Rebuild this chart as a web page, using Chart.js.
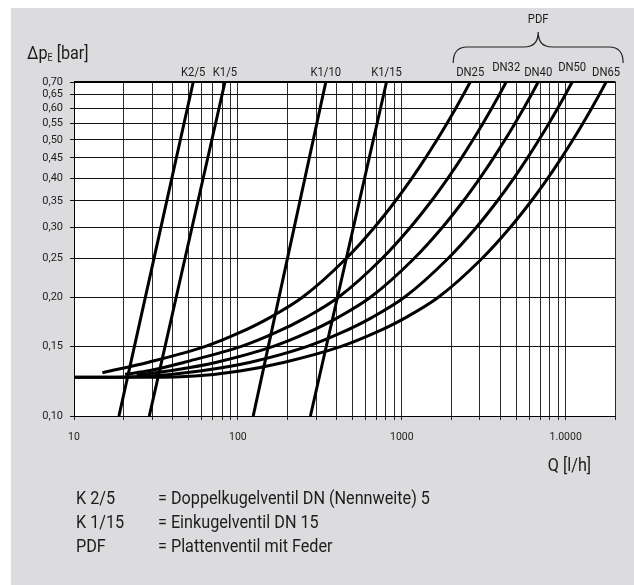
<!DOCTYPE html>
<html>
<head>
<meta charset="utf-8">
<script src="https://cdn.jsdelivr.net/npm/chart.js@4/dist/chart.umd.min.js"></script>
<style>
  body { margin: 0; background: #fff; }
  #wrap { position: relative; width: 634px; height: 585px; overflow: hidden; }
  #panel { position: absolute; left: 11px; top: 8px; right: 0; bottom: 0; background: #dcdcde; }
  canvas { position: absolute; left: 0; top: 0; }
  .t { position: absolute; font-family: Roboto, 'Liberation Sans', sans-serif; font-size: 18px;
       color: #1c1c1c; white-space: nowrap; line-height: 1; transform: scaleX(0.9); transform-origin: 0 0; }
  .t.re { transform-origin: 100% 0; }
  .t sub { font-size: 10px; vertical-align: -2px; }
</style>
</head>
<body>
<div id="wrap">
  <div id="panel"></div>
  <canvas id="grafico" width="634" height="585"></canvas>
  <div class="t" style="left:27px;top:44px">&Delta;p<sub>E</sub> [bar]</div>
  <div class="t re" style="right:43px;top:456px">Q [l/h]</div>
  <div class="t" style="left:76px;top:489px">K 2/5</div>
  <div class="t" style="left:158px;top:489px">= Doppelkugelventil DN (Nennweite) 5</div>
  <div class="t" style="left:76px;top:513px">K 1/15</div>
  <div class="t" style="left:158px;top:513px">= Einkugelventil DN 15</div>
  <div class="t" style="left:76px;top:537px">PDF</div>
  <div class="t" style="left:158px;top:537px">= Plattenventil mit Feder</div>
</div>
<script>
// Kugelventile (Geraden im log-log Diagramm)
const k25Q = [18.8, 53.4];
const k25P = [0.10, 0.70];
const k15Q = [28.8, 83.4];
const k15P = [0.10, 0.70];
const k110Q = [124, 344];
const k110P = [0.10, 0.70];
const k115Q = [277, 807];
const k115P = [0.10, 0.70];

// Plattenventile mit Feder (PDF)
const dn25Q = [14.9, 28.5, 63.4, 101.4, 157.6, 249, 456, 680, 914, 1154, 1397, 1641, 1886, 2131, 2375, 2616];
const dn25P = [0.1287, 0.1368, 0.150, 0.1622, 0.1777, 0.20, 0.25, 0.30, 0.35, 0.40, 0.45, 0.50, 0.55, 0.60, 0.65, 0.70];
const dn32Q = [20.5, 29.1, 47.3, 105.1, 168.1, 261.2, 412.7, 755, 1126, 1515, 1913, 2316, 2720, 3126, 3532, 3937, 4336];
const dn32P = [0.1275, 0.1303, 0.1368, 0.150, 0.1622, 0.1777, 0.20, 0.25, 0.30, 0.35, 0.40, 0.45, 0.50, 0.55, 0.60, 0.65, 0.70];
const dn40Q = [24.1, 41.3, 74.2, 164.7, 263.5, 409.5, 647, 1184, 1766, 2375, 2999, 3631, 4265, 4901, 5538, 6172, 6799];
const dn40P = [0.1270, 0.1307, 0.1368, 0.150, 0.1622, 0.1777, 0.20, 0.25, 0.30, 0.35, 0.40, 0.45, 0.50, 0.55, 0.60, 0.65, 0.70];
const dn50Q = [10, 14.4, 29.1, 58.7, 119.5, 265.5, 424.6, 660, 1043, 1908, 2846, 3827, 4833, 5851, 6873, 7899, 8925, 9947, 10956];
const dn50P = [0.1253, 0.1253, 0.1262, 0.1300, 0.1368, 0.150, 0.1622, 0.1777, 0.20, 0.25, 0.30, 0.35, 0.40, 0.45, 0.50, 0.55, 0.60, 0.65, 0.70];
const dn65Q = [10, 29.1, 54.7, 102.9, 192.6, 427.8, 684.4, 1064, 1680, 3075, 4586, 6168, 7788, 9429, 11076, 12729, 14383, 16030, 17657];
const dn65P = [0.1253, 0.1253, 0.1262, 0.1300, 0.1368, 0.150, 0.1622, 0.1777, 0.20, 0.25, 0.30, 0.35, 0.40, 0.45, 0.50, 0.55, 0.60, 0.65, 0.70];

// Achsen
const yTicks = [0.10, 0.15, 0.20, 0.25, 0.30, 0.35, 0.40, 0.45, 0.50, 0.55, 0.60, 0.65, 0.70];
const xTicks = [10, 20, 30, 40, 50, 60, 70, 80, 90,
                100, 200, 300, 400, 500, 600, 700, 800, 900,
                1000, 2000, 3000, 4000, 5000, 6000, 7000, 8000, 9000,
                10000, 20000];
const xLabels = { 10: "10", 100: "100", 1000: "1000", 10000: "1.0000" };

const schrift = "Roboto, 'Liberation Sans', sans-serif";

function punkte(q, p) {
    return q.map((v, i) => ({ x: v, y: p[i] }));
}
function linie(name, q, p) {
    return {
        label: name,
        data: punkte(q, p),
        borderColor: "#000",
        borderWidth: 3,
        pointRadius: 0,
        fill: false,
        cubicInterpolationMode: "monotone"
    };
}

const kurven = [
    linie("K2/5", k25Q, k25P),
    linie("K1/5", k15Q, k15P),
    linie("K1/10", k110Q, k110P),
    linie("K1/15", k115Q, k115P),
    linie("DN25", dn25Q, dn25P),
    linie("DN32", dn32Q, dn32P),
    linie("DN40", dn40Q, dn40P),
    linie("DN50", dn50Q, dn50P),
    linie("DN65", dn65Q, dn65P)
];

function schmal(ctx, text, x, y) {
    ctx.save();
    ctx.translate(x, y);
    ctx.scale(0.9, 1);
    ctx.fillText(text, 0, 0);
    ctx.restore();
}

// Hintergrund, Rahmen, Kurvenbeschriftung und PDF-Klammer
const beschriftung = {
    id: "beschriftung",
    beforeDraw(chart) {
        const { ctx, chartArea: a } = chart;
        ctx.save();
        ctx.fillStyle = "#fff";
        ctx.fillRect(a.left, a.top, a.right - a.left, a.bottom - a.top);
        ctx.restore();
    },
    afterDraw(chart) {
        const { ctx, chartArea: a } = chart;
        const xs = chart.scales.x;
        ctx.save();
        ctx.strokeStyle = "#000";
        ctx.lineWidth = 2;
        ctx.beginPath();
        ctx.moveTo(a.left, a.top);
        ctx.lineTo(a.right + 0.5, a.top);
        ctx.stroke();

        ctx.fillStyle = "#1c1c1c";
        ctx.textAlign = "center";
        ctx.textBaseline = "middle";
        ctx.font = "12.5px " + schrift;
        const pos = {};
        chart.data.datasets.forEach(ds => {
            const last = ds.data[ds.data.length - 1];
            const px = xs.getPixelForValue(last.x);
            const hoch = (ds.label === "DN32" || ds.label === "DN50") ? 5 : 0;
            schmal(ctx, ds.label, px, a.top - 9 - hoch);
            pos[ds.label] = { x: px, w: ctx.measureText(ds.label).width * 0.9 };
        });

        // Klammer ueber den DN-Kurven
        const l = pos.DN25.x - pos.DN25.w / 2 - 3;
        const r = pos.DN65.x + pos.DN65.w / 2 + 3;
        const m = (l + r) / 2;
        const yU = a.top - 19, yM = a.top - 35, yO = a.top - 50;
        ctx.strokeStyle = "#222";
        ctx.lineWidth = 1.2;
        ctx.beginPath();
        ctx.moveTo(l, yU);
        ctx.quadraticCurveTo(l, yM, l + 14, yM);
        ctx.lineTo(m - 14, yM);
        ctx.quadraticCurveTo(m, yM, m, yO);
        ctx.quadraticCurveTo(m, yM, m + 14, yM);
        ctx.lineTo(r - 14, yM);
        ctx.quadraticCurveTo(r, yM, r, yU);
        ctx.stroke();
        schmal(ctx, "PDF", m, a.top - 62);
        ctx.restore();
    }
};

new Chart(document.getElementById("grafico").getContext("2d"), {
    type: "line",
    data: { datasets: kurven },
    options: {
        responsive: false,
        animation: false,
        devicePixelRatio: 1,
        layout: { padding: { top: 82, right: 19, left: 0, bottom: 0 } },
        plugins: { legend: { display: false }, tooltip: { enabled: false } },
        scales: {
            x: {
                type: "logarithmic",
                min: 10,
                max: 20000,
                afterBuildTicks: s => { s.ticks = xTicks.map(v => ({ value: v })); },
                afterFit: s => { s.height = 169; },
                ticks: {
                    autoSkip: false,
                    maxRotation: 0,
                    padding: 11,
                    color: "#1c1c1c",
                    font: { family: schrift, size: 10.5 },
                    callback: v => xLabels[v] || ""
                },
                grid: { color: "#2a2a2a", lineWidth: 1, tickLength: 4 },
                border: { color: "#000", width: 1 }
            },
            y: {
                type: "logarithmic",
                min: 0.10,
                max: 0.70,
                afterBuildTicks: s => { s.ticks = yTicks.map(v => ({ value: v })); },
                afterFit: s => { s.width = 74; },
                ticks: {
                    autoSkip: false,
                    padding: 7,
                    color: "#1c1c1c",
                    font: { family: schrift, size: 11 },
                    callback: v => v.toFixed(2).replace(".", ",")
                },
                grid: { color: "#111", lineWidth: 1, tickLength: 4 },
                border: { color: "#000", width: 1 }
            }
        }
    },
    plugins: [beschriftung]
});
</script>
</body>
</html>
